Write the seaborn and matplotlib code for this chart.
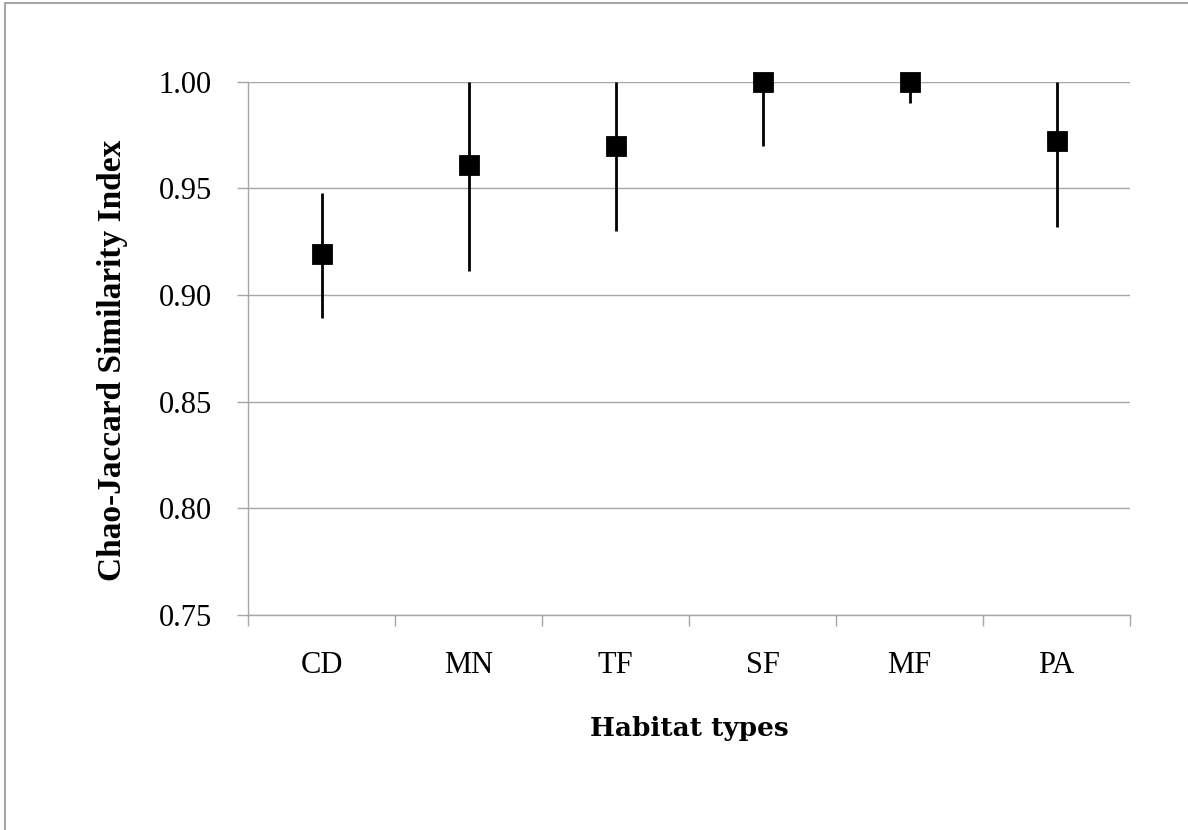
import numpy as np
import pandas as pd
import seaborn as sns
import matplotlib.pyplot as plt
from matplotlib.lines import Line2D

# --- datos ---
habitats = ['CD', 'MN', 'TF', 'SF', 'MF', 'PA']
indice = [0.919, 0.961, 0.970, 1.000, 1.000, 0.972]
limite_inf = [0.889, 0.911, 0.930, 0.970, 0.990, 0.932]
limite_sup = [0.948, 1.000, 1.000, 1.000, 1.000, 1.000]
yticks = [0.75, 0.80, 0.85, 0.90, 0.95, 1.00]

df = pd.DataFrame({'habitat': habitats, 'indice': indice,
                   'inf': limite_inf, 'sup': limite_sup})

sns.set_style('white')
plt.rcParams['font.family'] = ['Liberation Serif', 'DejaVu Serif']
plt.rcParams['text.color'] = 'black'
plt.rcParams['xtick.color'] = 'black'
plt.rcParams['ytick.color'] = 'black'

gris = '#a6a6a6'
fig = plt.figure(figsize=(11.88, 8.30), dpi=100)
ax = fig.add_axes([0.2088, 0.259, 0.7424, 0.6427])

# barras de error (lineas verticales)
pos = np.arange(len(df))
ax.vlines(pos, df['inf'], df['sup'], color='black', lw=2.0, zorder=3)

# marcadores cuadrados
sns.pointplot(data=df, x='habitat', y='indice', order=habitats,
              linestyle='none', marker='s', markersize=13, color='black',
              errorbar=None, ax=ax, zorder=4)
for coll in ax.collections + ax.lines:
    coll.set_clip_on(False)

ax.set_xlim(-0.5, len(habitats) - 0.5)
ax.set_ylim(0.75, 1.00)
ax.set_yticks(yticks)
ax.set_yticklabels([f'{v:.2f}' for v in yticks])
ax.yaxis.grid(True, color=gris, lw=1.0, zorder=0)
ax.xaxis.grid(False)

# ticks del eje x en los limites entre categorias
ax.set_xticks(pos)
ax.set_xticklabels(habitats)
ax.set_xticks(np.arange(-0.5, len(habitats)), minor=True)
ax.tick_params(axis='x', which='major', length=0, pad=26, labelsize=22,
               labelcolor='black')
ax.tick_params(axis='x', which='minor', bottom=True, length=8, width=1.0,
               color=gris, direction='out')
ax.tick_params(axis='y', which='major', left=True, length=8, width=1.0, color=gris,
               direction='out', pad=18, labelsize=22, labelcolor='black')

for lado in ['top', 'right']:
    ax.spines[lado].set_visible(False)
for lado in ['left', 'bottom']:
    ax.spines[lado].set_color(gris)
    ax.spines[lado].set_linewidth(1.0)

ax.set_xlabel('')
ax.set_ylabel('')
fig.text(689 / 1188, 1 - 728 / 830, 'Habitat types', ha='center', va='center',
         fontsize=19, fontweight='bold', family=['DejaVu Serif'], color='black')
fig.text(113 / 1188, 1 - 360 / 830, 'Chao-Jaccard Similarity Index', ha='center',
         va='center', rotation=90, fontsize=24, fontweight='bold', color='black')

# marco exterior (solo arriba e izquierda visibles)
fig.add_artist(Line2D([5 / 1188, 1.0], [1 - 3 / 830, 1 - 3 / 830],
                      transform=fig.transFigure, color=gris, lw=1.5))
fig.add_artist(Line2D([5 / 1188, 5 / 1188], [0, 1 - 3 / 830],
                      transform=fig.transFigure, color=gris, lw=1.5))

fig.savefig('out.png', dpi=100)
